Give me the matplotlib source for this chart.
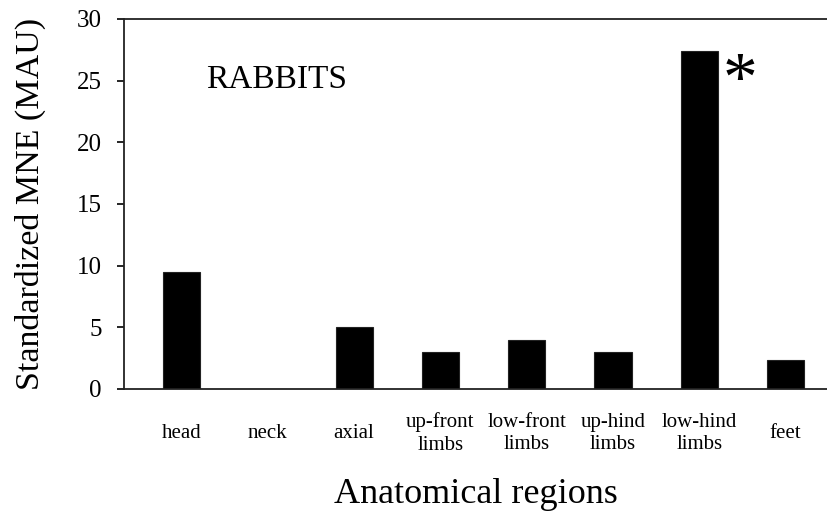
#!/usr/bin/env python3

import matplotlib.pyplot as plt
import numpy as np

plt.rcParams["font.family"] = ["Liberation Serif", "DejaVu Serif"]

# =========================
# Hardcoded data
# =========================

regions = ["head", "neck", "axial", "up-front\nlimbs", "low-front\nlimbs",
           "up-hind\nlimbs", "low-hind\nlimbs", "feet"]
mau = [9.5, 0.0, 5.0, 3.0, 4.0, 3.0, 27.4, 2.3]

# =========================
# Plot
# =========================

BAR_WIDTH = 0.43
DPI = 100

x = np.arange(len(regions))

fig = plt.figure(figsize=(8.27, 5.13), dpi=DPI)
ax = fig.add_axes([0.150, 0.242, 0.850, 0.721])

ax.bar(x, mau, width=BAR_WIDTH, color="black", edgecolor="#222222", linewidth=0.8)

ax.set_xlim(-0.666, 7.48)
ax.set_ylim(0, 30)
ax.set_yticks(np.arange(0, 31, 5))

ax.set_xticks(x)
ax.set_xticklabels(regions, fontsize=15, va="center", linespacing=1.25)
ax.tick_params(axis="x", length=0, pad=32)
ax.tick_params(axis="y", direction="out", length=5, width=1.2, labelsize=18, pad=11)

ax.spines["right"].set_visible(False)
for side in ("left", "top", "bottom"):
    ax.spines[side].set_linewidth(1.3)
    ax.spines[side].set_color("#222222")

ax.set_ylabel("Standardized MNE (MAU)", fontsize=24.5, labelpad=22)
ax.set_xlabel("Anatomical regions", fontsize=26, labelpad=17)

ax.text(0.1166, 0.835, "RABBITS", transform=ax.transAxes, fontsize=24,
        ha="left", va="center")
ax.text(6.47, 24.8, "*", fontsize=50, ha="center", va="center")

fig.savefig("out.png", dpi=DPI)
plt.close(fig)
